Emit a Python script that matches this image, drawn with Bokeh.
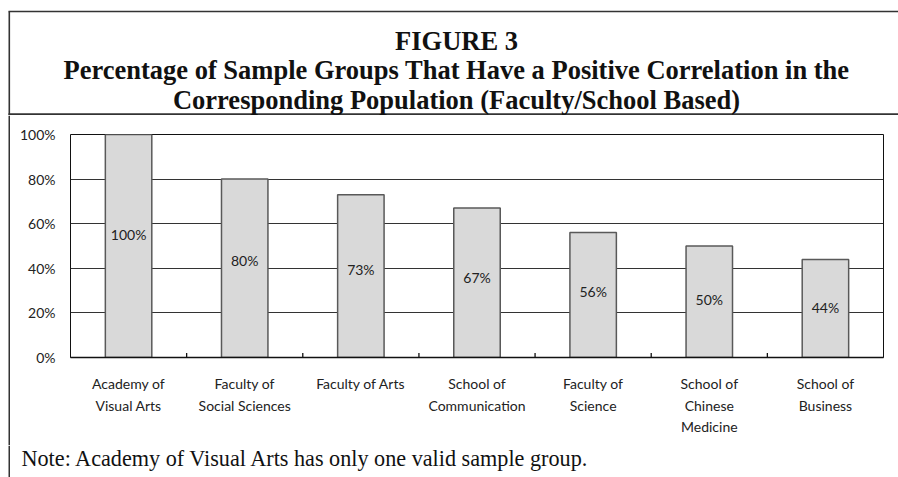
from bokeh.plotting import figure
from bokeh.layouts import column, row
from bokeh.models import (Range1d, FixedTicker, PrintfTickFormatter, CustomJSTickFormatter,
                          Label, LabelSet, ColumnDataSource, LinearAxis)
from bokeh.core.properties import value
from bokeh.embed import file_html
from bokeh.resources import INLINE

# ---- data ----
categories = ["Academy of Visual Arts", "Faculty of Social Sciences", "Faculty of Arts",
              "School of Communication", "Faculty of Science",
              "School of Chinese Medicine", "School of Business"]
label_line1 = ["Academy of", "Faculty of", "Faculty of Arts", "School of",
               "Faculty of", "School of", "School of"]
label_line2 = ["Visual Arts", "Social Sciences", "", "Communication",
               "Science", "Chinese", "Business"]
label_line3 = ["", "", "", "", "", "Medicine", ""]
values = [100, 80, 73, 67, 56, 50, 44]
y_ticks = [0, 20, 40, 60, 80, 100]
title_lines = ["FIGURE 3",
               "Percentage of Sample Groups That Have a Positive Correlation in the",
               "Corresponding Population (Faculty/School Based)"]
note_text = "Note: Academy of Visual Arts has only one valid sample group."

BOX = "#333333"
TXT = "#222222"
SANS = "Lato"
SERIF = "Liberation Serif"


def blank(width, height):
    f = figure(width=width, height=height, x_range=Range1d(0, width),
               y_range=Range1d(height, 0), output_backend="svg", toolbar_location=None,
               min_border=0, min_border_left=0, min_border_right=0,
               min_border_top=0, min_border_bottom=0)
    f.axis.visible = False
    f.grid.visible = False
    f.outline_line_color = None
    f.background_fill_color = "white"
    f.border_fill_color = "white"
    return f


# ---- header (title box) ----
HW, HH = 898, 115
head = blank(HW, HH)
head.segment(x0=[8, 8, 8.8], y0=[11, 113.8, 11], x1=[HW, HW, 8.8], y1=[11, 113.8, HH],
             line_color=BOX, line_width=[1.5, 2, 1.6])
for i, t in enumerate(title_lines):
    head.add_layout(Label(x=456, y=40 + 29.5 * i, text=t, text_align="center",
                          text_baseline="middle", text_font=SERIF, text_font_style="bold",
                          text_font_size="26.5px", text_color="#111111"))

# ---- main chart ----
MW, MH = 888, 330
n = len(categories)
centers = [i + 0.5 for i in range(n)]
bounds = [float(i) for i in range(1, n)]

p = figure(width=MW, height=MH,
           x_range=Range1d(0, n), y_range=Range1d(0, 100),
           output_backend="svg", toolbar_location=None,
           min_border_left=60, min_border_right=15,
           min_border_top=19, min_border_bottom=88)
p.background_fill_color = "white"
p.border_fill_color = "white"
p.outline_line_color = "#111111"
p.outline_line_width = 1

src = ColumnDataSource(dict(x=centers, cat=categories, val=values,
                            lbl=[f"{v}%" for v in values],
                            ly=[0.58 * v - 3 for v in values]))

p.vbar(x="x", top="val", width=0.4, source=src,
       fill_color="#d9d9d9", line_color="#595959", line_width=1.5)

# tick marks between categories
p.segment(x0=bounds, y0=[0] * len(bounds), x1=bounds, y1=[2] * len(bounds),
          line_color="#111111", line_width=1.3)

p.add_layout(LabelSet(x="x", y="ly", text="lbl", source=src,
                      text_align="center", text_baseline="middle",
                      text_font=value(SANS), text_font_size="14px",
                      text_color=TXT))

p.xgrid.visible = False
p.ygrid.ticker = FixedTicker(ticks=y_ticks)
p.ygrid.grid_line_color = "#333333"
p.ygrid.grid_line_width = 1

p.yaxis.ticker = FixedTicker(ticks=y_ticks)
p.yaxis.formatter = PrintfTickFormatter(format="%d%%")
p.yaxis.major_tick_line_color = None
p.yaxis.major_tick_out = 0
p.yaxis.major_tick_in = 0
p.yaxis.minor_tick_line_color = None
p.yaxis.axis_line_color = None
p.yaxis.major_label_standoff = 15
p.yaxis.major_label_text_font = SANS
p.yaxis.major_label_text_font_size = "14px"
p.yaxis.major_label_text_color = TXT


def style_x(ax, standoff, lines, line=False):
    ax.ticker = FixedTicker(ticks=centers, minor_ticks=[])
    ax.formatter = CustomJSTickFormatter(args=dict(lines=lines),
                                         code="return lines[Math.floor(tick)] || '';")
    ax.major_tick_line_color = None
    ax.minor_tick_line_color = None
    ax.major_tick_out = 0
    ax.major_tick_in = 0
    ax.minor_tick_out = 0
    ax.minor_tick_in = 0
    ax.axis_line_color = "#111111" if line else None
    ax.axis_line_width = 1.5
    ax.major_label_standoff = standoff
    ax.major_label_text_font = SANS
    ax.major_label_text_font_size = "14px"
    ax.major_label_text_color = TXT
    ax.major_label_orientation = "horizontal"


style_x(p.xaxis[0], 17, label_line1, line=True)
ax2 = LinearAxis()
style_x(ax2, 2, label_line2)
p.add_layout(ax2, "below")
ax3 = LinearAxis()
style_x(ax3, 1, label_line3)
p.add_layout(ax3, "below")

# ---- left border strips ----
strip1 = blank(10, MH)
strip1.segment(x0=[8.8], y0=[0], x1=[8.8], y1=[MH], line_color=BOX, line_width=1.6)

FH = 477 - HH - MH
strip2 = blank(10, FH)
strip2.segment(x0=[8.8], y0=[0], x1=[8.8], y1=[FH], line_color=BOX, line_width=1.6)

# ---- footer (note) ----
foot = blank(MW, FH)
foot.add_layout(Label(x=11, y=13, text=note_text, text_align="left", text_baseline="middle",
                      text_font=SERIF, text_font_size="22.2px", text_color="#111111"))

layout = column(head, row(column(strip1), column(p)), row(strip2, foot))
open("out.html", "w").write(file_html(layout, INLINE))
